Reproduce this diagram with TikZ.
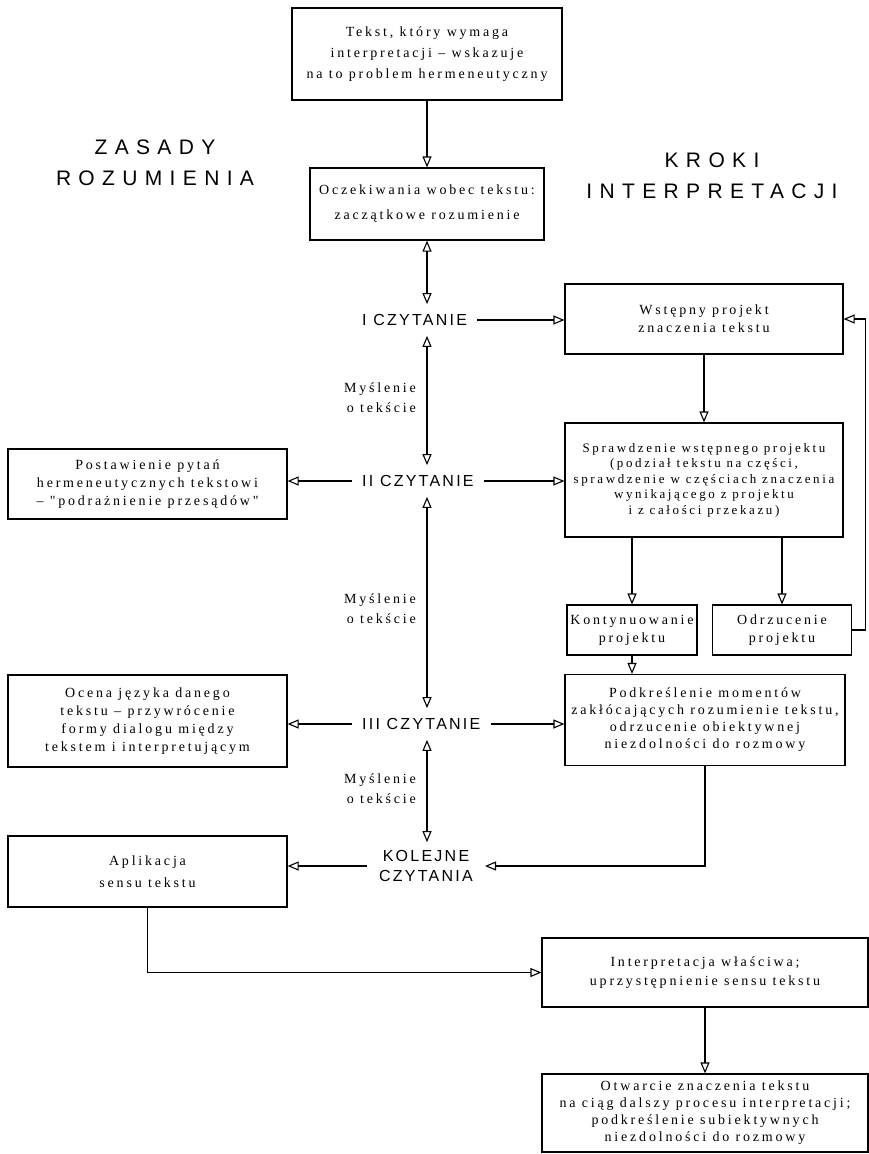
\documentclass[tikz,border=0pt]{standalone}
\usepackage{fontspec}
\setmainfont{Liberation Serif}
\newfontfamily\bxf[LetterSpace=20]{Liberation Serif}
\newfontfamily\lbf[LetterSpace=14]{Liberation Sans}
\newfontfamily\ttlf[LetterSpace=35]{Liberation Sans}
\usetikzlibrary{arrows.meta,calc}
\begin{document}
\begin{tikzpicture}[x=1pt,y=-1pt,
 box/.style={draw, line width=1.2pt, inner sep=0pt, align=center, font=\bxf\fontsize{14}{18}\selectfont},
 rdg/.style={inner xsep=10pt, inner ysep=10pt, font=\lbf\fontsize{16}{20}\selectfont, anchor=west},
 note/.style={align=right, anchor=east, inner sep=0pt, font=\bxf\fontsize{14}{20}\selectfont},
 ttl/.style={align=center, inner sep=0pt, font=\ttlf\fontsize{21}{31}\selectfont},
 tip/.style={Triangle[open,length=11pt,width=9pt,line width=1.1pt]},
 arr/.style={line width=1.2pt, -{Triangle[open,length=11pt,width=9pt,line width=1.1pt]}},
 darr/.style={line width=1.2pt, {Triangle[open,length=11pt,width=9pt,line width=1.1pt]}-{Triangle[open,length=11pt,width=9pt,line width=1.1pt]}},
]
\useasboundingbox (0,0) rectangle (869,1154);

% titles
\node[ttl] (zr) at (155,163) {ZASADY\\ROZUMIENIA};
\node[ttl] (ki) at (712,176) {KROKI\\INTERPRETACJI};

% boxes
\node[box, minimum width=270, minimum height=92, font=\bxf\fontsize{14}{21}\selectfont] (top) at (427,54)
  {Tekst, który wymaga\\interpretacji – wskazuje\\na to problem hermeneutyczny};
\node[box, minimum width=234, minimum height=72, font=\bxf\fontsize{14}{25}\selectfont] (exp) at (427,204)
  {Oczekiwania wobec tekstu:\\zaczątkowe rozumienie};
\node[box, minimum width=278, minimum height=70] (wst) at (704,319)
  {Wstępny projekt\\znaczenia tekstu};
\node[box, minimum width=278, minimum height=114, font=\bxf\fontsize{13}{15.5}\selectfont] (spr) at (704,480)
  {Sprawdzenie wstępnego projektu\\(podział tekstu na części,\\sprawdzenie w częściach znaczenia\\wynikającego z projektu\\i z całości przekazu)};
\node[box, minimum width=130, minimum height=50] (kont) at (632,630)
  {Kontynuowanie\\projektu};
\node[box, minimum width=139, minimum height=50] (odrz) at (782,630)
  {Odrzucenie\\projektu};
\node[box, minimum width=280, minimum height=91, font=\bxf\fontsize{14}{17}\selectfont] (podk) at (705,720)
  {Podkreślenie momentów\\zakłócających rozumienie tekstu,\\odrzucenie obiektywnej\\niezdolności do rozmowy};
\node[box, minimum width=279, minimum height=70] (post) at (147.5,484)
  {Postawienie pytań\\hermeneutycznych tekstowi\\– "podrażnienie przesądów"};
\node[box, minimum width=279, minimum height=92] (oc) at (147.5,721)
  {Ocena języka danego\\tekstu – przywrócenie\\formy dialogu między\\tekstem i interpretującym};
\node[box, minimum width=279, minimum height=71, font=\bxf\fontsize{14}{22}\selectfont] (apl) at (147.5,871.5)
  {Aplikacja\\sensu tekstu};
\node[box, minimum width=326, minimum height=69, font=\bxf\fontsize{14}{19}\selectfont] (int) at (705,972.5)
  {Interpretacja właściwa;\\uprzystępnienie sensu tekstu};
\node[box, minimum width=326, minimum height=78, font=\bxf\fontsize{14}{17}\selectfont] (otw) at (705,1113)
  {Otwarcie znaczenia tekstu\\na ciąg dalszy procesu interpretacji;\\podkreślenie subiektywnych\\niezdolności do rozmowy};

% readings
\node[rdg] (c1) at (352,320) {I CZYTANIE};
\node[rdg] (c2) at (352,481) {II CZYTANIE};
\node[rdg] (c3) at (352,724) {III CZYTANIE};
\node[align=center, inner xsep=12pt, inner ysep=8pt, font=\lbf\fontsize{16}{20}\selectfont] (kol) at (426,866) {KOLEJNE\\CZYTANIA};

% notes
\node[note] (m1) at (416,398) {Myślenie\\o tekście};
\node[note] (m2) at (416,609) {Myślenie\\o tekście};
\node[note] (m3) at (416,789) {Myślenie\\o tekście};

% connectors
\draw[arr] (top) -- (exp);
\draw[darr] (exp.south) -- (exp.south |- c1.north);
\draw[darr] (exp.south |- c1.south) -- (exp.south |- c2.north);
\draw[darr] (exp.south |- c2.south) -- (exp.south |- c3.north);
\draw[darr] (exp.south |- c3.south) -- (exp.south |- kol.north);

\draw[arr] (c1.east) -- (c1.east -| wst.west);
\draw[arr] (c2.west) -- (c2.west -| post.east);
\draw[arr] (c2.east) -- (c2.east -| spr.west);
\draw[arr] (c3.west) -- (c3.west -| oc.east);
\draw[arr] (c3.east) -- (c3.east -| podk.west);
\draw[arr] (kol.west) -- (kol.west -| apl.east);
\draw[arr] (podk.south) |- (kol.east);

\draw[arr] (wst) -- (spr);
\draw[arr] (spr.south -| kont.north) -- (kont.north);
\draw[arr] (spr.south -| odrz.north) -- (odrz.north);
\draw[arr] (kont) -- (kont.south |- podk.north);
\draw[arr] (odrz.east) -- ++(13,0) |- (wst.east);
\draw[arr] (apl.south) |- (int.west);
\draw[arr] (int) -- (otw);
\end{tikzpicture}
\end{document}
